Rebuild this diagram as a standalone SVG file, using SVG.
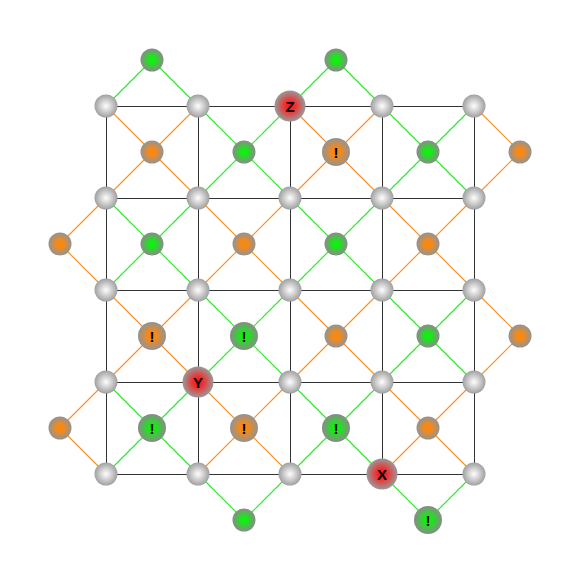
<svg xmlns="http://www.w3.org/2000/svg" width="581" height="581" viewBox="0 0 581 581">
<defs>
<radialGradient id="gGray" cx="50%" cy="50%" r="50%"><stop offset="0%" stop-color="#ffffff"/><stop offset="100%" stop-color="#a0a0a0"/></radialGradient>
<radialGradient id="gGreen" cx="50%" cy="50%" r="50%"><stop offset="0%" stop-color="#00ff00"/><stop offset="35%" stop-color="#22e022"/><stop offset="100%" stop-color="#8a8a8a"/></radialGradient>
<radialGradient id="gOrange" cx="50%" cy="50%" r="50%"><stop offset="0%" stop-color="#ff8800"/><stop offset="35%" stop-color="#f08a20"/><stop offset="100%" stop-color="#939393"/></radialGradient>
<radialGradient id="gRed" cx="50%" cy="50%" r="50%"><stop offset="0%" stop-color="#ff1010"/><stop offset="35%" stop-color="#ee3030"/><stop offset="100%" stop-color="#999999"/></radialGradient>
</defs>
<style>
.grid line{stroke:#333;stroke-width:1;shape-rendering:crispEdges}
.eg line{stroke:#22ee22;stroke-width:1.1}
.eo line{stroke:#ff8c1a;stroke-width:1.1}
.gray{fill:url(#gGray)}
.green{fill:url(#gGreen)}
.orange{fill:url(#gOrange)}
.red{fill:url(#gRed)}
text{font-family:"Liberation Sans",Arial,sans-serif;font-weight:bold;font-size:15px;fill:#000;text-anchor:middle;dominant-baseline:central}
</style>
<rect width="581" height="581" fill="#fff"/>
<g id="connectors">
<g class="grid">
<line x1="106" y1="106.5" x2="474" y2="106.5"/><line x1="106" y1="198.5" x2="474" y2="198.5"/><line x1="106" y1="290.5" x2="474" y2="290.5"/><line x1="106" y1="382.5" x2="474" y2="382.5"/><line x1="106" y1="474.5" x2="474" y2="474.5"/>
<line x1="106.5" y1="106" x2="106.5" y2="474"/><line x1="198.5" y1="106" x2="198.5" y2="474"/><line x1="290.5" y1="106" x2="290.5" y2="474"/><line x1="382.5" y1="106" x2="382.5" y2="474"/><line x1="474.5" y1="106" x2="474.5" y2="474"/>
</g>
<g class="eg">
<line x1="106" y1="106" x2="152" y2="60"/><line x1="152" y1="60" x2="198" y2="106"/>
<line x1="290" y1="106" x2="336" y2="60"/><line x1="336" y1="60" x2="382" y2="106"/>
<line x1="198" y1="106" x2="290" y2="198"/><line x1="290" y1="106" x2="198" y2="198"/>
<line x1="382" y1="106" x2="474" y2="198"/><line x1="474" y1="106" x2="382" y2="198"/>
<line x1="106" y1="198" x2="198" y2="290"/><line x1="198" y1="198" x2="106" y2="290"/>
<line x1="290" y1="198" x2="382" y2="290"/><line x1="382" y1="198" x2="290" y2="290"/>
<line x1="198" y1="290" x2="290" y2="382"/><line x1="290" y1="290" x2="198" y2="382"/>
<line x1="382" y1="290" x2="474" y2="382"/><line x1="474" y1="290" x2="382" y2="382"/>
<line x1="106" y1="382" x2="198" y2="474"/><line x1="198" y1="382" x2="106" y2="474"/>
<line x1="290" y1="382" x2="382" y2="474"/><line x1="382" y1="382" x2="290" y2="474"/>
<line x1="198" y1="474" x2="244" y2="520"/><line x1="244" y1="520" x2="290" y2="474"/>
<line x1="382" y1="474" x2="428" y2="520"/><line x1="428" y1="520" x2="474" y2="474"/>
</g>
<g class="eo">
<line x1="106" y1="106" x2="198" y2="198"/><line x1="198" y1="106" x2="106" y2="198"/>
<line x1="290" y1="106" x2="382" y2="198"/><line x1="382" y1="106" x2="290" y2="198"/>
<line x1="474" y1="106" x2="520" y2="152"/><line x1="520" y1="152" x2="474" y2="198"/>
<line x1="106" y1="198" x2="60" y2="244"/><line x1="60" y1="244" x2="106" y2="290"/>
<line x1="198" y1="198" x2="290" y2="290"/><line x1="290" y1="198" x2="198" y2="290"/>
<line x1="382" y1="198" x2="474" y2="290"/><line x1="474" y1="198" x2="382" y2="290"/>
<line x1="106" y1="290" x2="198" y2="382"/><line x1="198" y1="290" x2="106" y2="382"/>
<line x1="290" y1="290" x2="382" y2="382"/><line x1="382" y1="290" x2="290" y2="382"/>
<line x1="474" y1="290" x2="520" y2="336"/><line x1="520" y1="336" x2="474" y2="382"/>
<line x1="106" y1="382" x2="60" y2="428"/><line x1="60" y1="428" x2="106" y2="474"/>
<line x1="198" y1="382" x2="290" y2="474"/><line x1="290" y1="382" x2="198" y2="474"/>
<line x1="382" y1="382" x2="474" y2="474"/><line x1="474" y1="382" x2="382" y2="474"/>
</g>
</g>
<g id="n_106_106"><circle class="gray" cx="106" cy="106" r="11.5"/></g>
<g id="n_198_106"><circle class="gray" cx="198" cy="106" r="11.5"/></g>
<g id="n_382_106"><circle class="gray" cx="382" cy="106" r="11.5"/></g>
<g id="n_474_106"><circle class="gray" cx="474" cy="106" r="11.5"/></g>
<g id="n_106_198"><circle class="gray" cx="106" cy="198" r="11.5"/></g>
<g id="n_198_198"><circle class="gray" cx="198" cy="198" r="11.5"/></g>
<g id="n_290_198"><circle class="gray" cx="290" cy="198" r="11.5"/></g>
<g id="n_382_198"><circle class="gray" cx="382" cy="198" r="11.5"/></g>
<g id="n_474_198"><circle class="gray" cx="474" cy="198" r="11.5"/></g>
<g id="n_106_290"><circle class="gray" cx="106" cy="290" r="11.5"/></g>
<g id="n_198_290"><circle class="gray" cx="198" cy="290" r="11.5"/></g>
<g id="n_290_290"><circle class="gray" cx="290" cy="290" r="11.5"/></g>
<g id="n_382_290"><circle class="gray" cx="382" cy="290" r="11.5"/></g>
<g id="n_474_290"><circle class="gray" cx="474" cy="290" r="11.5"/></g>
<g id="n_106_382"><circle class="gray" cx="106" cy="382" r="11.5"/></g>
<g id="n_290_382"><circle class="gray" cx="290" cy="382" r="11.5"/></g>
<g id="n_382_382"><circle class="gray" cx="382" cy="382" r="11.5"/></g>
<g id="n_474_382"><circle class="gray" cx="474" cy="382" r="11.5"/></g>
<g id="n_106_474"><circle class="gray" cx="106" cy="474" r="11.5"/></g>
<g id="n_198_474"><circle class="gray" cx="198" cy="474" r="11.5"/></g>
<g id="n_290_474"><circle class="gray" cx="290" cy="474" r="11.5"/></g>
<g id="n_474_474"><circle class="gray" cx="474" cy="474" r="11.5"/></g>
<g id="Z"><circle class="red" cx="290" cy="106" r="15.5"/><text x="290" y="106">Z</text></g>
<g id="Y"><circle class="red" cx="198" cy="382" r="15.5"/><text x="198" y="382">Y</text></g>
<g id="X"><circle class="red" cx="382" cy="474" r="15.5"/><text x="382" y="474">X</text></g>
<g id="g_152_60"><circle class="green" cx="152" cy="60" r="11.5"/></g>
<g id="g_336_60"><circle class="green" cx="336" cy="60" r="11.5"/></g>
<g id="g_244_152"><circle class="green" cx="244" cy="152" r="11.5"/></g>
<g id="g_428_152"><circle class="green" cx="428" cy="152" r="11.5"/></g>
<g id="g_152_244"><circle class="green" cx="152" cy="244" r="11.5"/></g>
<g id="g_336_244"><circle class="green" cx="336" cy="244" r="11.5"/></g>
<g id="g_244_336"><circle class="green" cx="244" cy="336" r="14"/><text x="244" y="336">!</text></g>
<g id="g_428_336"><circle class="green" cx="428" cy="336" r="11.5"/></g>
<g id="g_152_428"><circle class="green" cx="152" cy="428" r="14"/><text x="152" y="428">!</text></g>
<g id="g_336_428"><circle class="green" cx="336" cy="428" r="14"/><text x="336" y="428">!</text></g>
<g id="g_244_520"><circle class="green" cx="244" cy="520" r="11.5"/></g>
<g id="g_428_520"><circle class="green" cx="428" cy="520" r="14"/><text x="428" y="520">!</text></g>
<g id="o_152_152"><circle class="orange" cx="152" cy="152" r="11.5"/></g>
<g id="o_336_152"><circle class="orange" cx="336" cy="152" r="14"/><text x="336" y="152">!</text></g>
<g id="o_520_152"><circle class="orange" cx="520" cy="152" r="11.5"/></g>
<g id="o_60_244"><circle class="orange" cx="60" cy="244" r="11.5"/></g>
<g id="o_244_244"><circle class="orange" cx="244" cy="244" r="11.5"/></g>
<g id="o_428_244"><circle class="orange" cx="428" cy="244" r="11.5"/></g>
<g id="o_152_336"><circle class="orange" cx="152" cy="336" r="14"/><text x="152" y="336">!</text></g>
<g id="o_336_336"><circle class="orange" cx="336" cy="336" r="11.5"/></g>
<g id="o_520_336"><circle class="orange" cx="520" cy="336" r="11.5"/></g>
<g id="o_60_428"><circle class="orange" cx="60" cy="428" r="11.5"/></g>
<g id="o_244_428"><circle class="orange" cx="244" cy="428" r="14"/><text x="244" y="428">!</text></g>
<g id="o_428_428"><circle class="orange" cx="428" cy="428" r="11.5"/></g>
</svg>
